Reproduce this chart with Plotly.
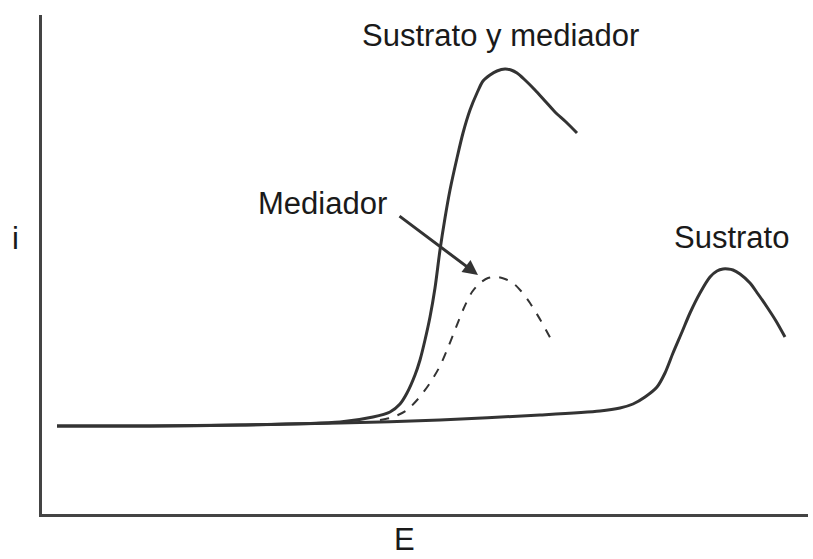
import plotly.graph_objects as go

# Sustrato (baseline + peak at high potential)
sustrato_E = [57, 150, 240, 340, 440, 540, 600, 620, 633, 645, 657, 665, 673, 682, 690, 700, 710, 717, 723, 728, 733, 740, 750, 758, 767, 776, 785]
sustrato_i = [88, 88, 89, 91, 94, 99, 103, 106, 110, 117, 127, 141, 161, 182, 201, 221, 237, 243, 245, 245, 244, 240, 231, 220, 207, 193, 177]

# Sustrato y mediador (catalytic peak)
symed_E = [57, 150, 240, 340, 373, 390, 400, 407, 415, 420, 425, 430, 435, 440, 445, 450, 457, 463, 470, 477, 483, 490, 497, 505, 511, 517, 525, 535, 545, 555, 566, 577]
symed_i = [88, 88, 89, 92, 97, 102, 110, 121, 139, 154, 174, 197, 226, 264, 296, 324, 356, 381, 404, 421, 433, 439, 443, 445, 444, 441, 434, 424, 413, 402, 392, 381]

# Mediador alone (dashed)
med_E = [380, 390, 398, 407, 418, 430, 440, 447, 455, 463, 472, 480, 488, 497, 505, 513, 521, 530, 541, 553]
med_i = [94, 96, 99, 104, 115, 131, 148, 164, 184, 204, 222, 231, 236, 237, 235, 231, 223, 211, 193, 171]

line_color = "#333333"
text_color = "#1a1a1a"
font_family = "Liberation Sans, Arial, sans-serif"
font = dict(size=31, color=text_color, family=font_family)

fig = go.Figure()
fig.add_trace(go.Scatter(x=sustrato_E, y=sustrato_i, mode="lines",
                         line=dict(color=line_color, width=3, shape="spline", smoothing=0.8)))
fig.add_trace(go.Scatter(x=symed_E, y=symed_i, mode="lines",
                         line=dict(color=line_color, width=3, shape="spline", smoothing=0.8)))
fig.add_trace(go.Scatter(x=med_E, y=med_i, mode="lines",
                         line=dict(color=line_color, width=2, dash="dash", shape="spline", smoothing=0.8)))

annotations = [
    dict(text="Sustrato y mediador", x=500, y=479, xref="x", yref="y", showarrow=False, font=font),
    dict(text="Mediador", x=322, y=311, xref="x", yref="y", showarrow=False, font=font),
    dict(text="Sustrato", x=731, y=277, xref="x", yref="y", showarrow=False, font=font),
    dict(text="i", x=-0.0352, y=0.553, xref="paper", yref="paper", showarrow=False, font=font),
    dict(text="E", x=0.4726, y=-0.0521, xref="paper", yref="paper", showarrow=False, font=font),
    dict(text="", x=478, y=239, ax=398, ay=299, xref="x", yref="y", axref="x", ayref="y",
         showarrow=True, arrowhead=2, arrowsize=1, arrowwidth=3, arrowcolor=line_color),
]
for a in annotations:
    a.update(xanchor="center", yanchor="middle")

fig.update_layout(
    width=813, height=559,
    margin=dict(l=42, r=5, t=15, b=45),
    paper_bgcolor="white", plot_bgcolor="white",
    showlegend=False,
    annotations=annotations,
    xaxis=dict(range=[42, 808], showline=True, linewidth=3, linecolor="#444444",
               showgrid=False, zeroline=False, showticklabels=False, ticks=""),
    yaxis=dict(range=[0, 499], showline=True, linewidth=3, linecolor="#444444",
               showgrid=False, zeroline=False, showticklabels=False, ticks=""),
)

fig.write_html("out.html", config={"displayModeBar": False},
               post_script="document.body.style.margin='0';document.body.style.overflow='hidden';")
